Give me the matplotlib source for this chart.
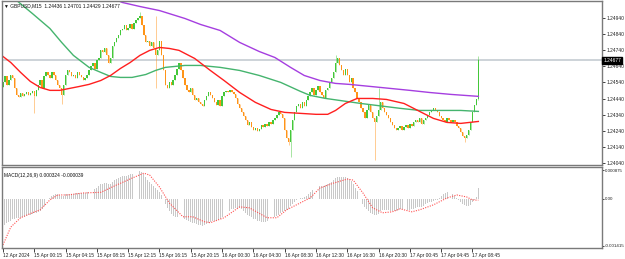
import numpy as np
import matplotlib
matplotlib.use("Agg")
from matplotlib import pyplot as plt
from matplotlib.transforms import blended_transform_factory

plt.rcParams["font.family"] = ["Liberation Sans", "DejaVu Sans"]

symbol = "GBPUSD,M15"
ohlc_last = [1.24436, 1.24701, 1.24429, 1.24677]
macd_last = [0.000324, -0.000039]

open0 = 1.24510
closes = [
    1.24540, 1.24577, 1.24522, 1.24552, 1.24589, 1.24565, 1.24503, 1.24460, 1.24448, 1.24472,
    1.24454, 1.24466, 1.24478, 1.24460, 1.24472, 1.24485, 1.24454, 1.24491, 1.24522, 1.24552,
    1.24503, 1.24577, 1.24602, 1.24589, 1.24565, 1.24602, 1.24583, 1.24552, 1.24522, 1.24503,
    1.24460, 1.24522, 1.24583, 1.24614, 1.24602, 1.24577, 1.24589, 1.24565, 1.24602, 1.24583,
    1.24571, 1.24552, 1.24565, 1.24583, 1.24614, 1.24639, 1.24663, 1.24626, 1.24676, 1.24688,
    1.24738, 1.24725, 1.24750, 1.24707, 1.24663, 1.24688, 1.24768, 1.24787, 1.24812, 1.24830,
    1.24861, 1.24873, 1.24892, 1.24861, 1.24879, 1.24898, 1.24873, 1.24910, 1.24923, 1.24935,
    1.24953, 1.24892, 1.24830, 1.24787, 1.24799, 1.24768, 1.24787, 1.24750, 1.24707, 1.24738,
    1.24799, 1.24707, 1.24614, 1.24522, 1.24503, 1.24540, 1.24522, 1.24552, 1.24583, 1.24626,
    1.24663, 1.24614, 1.24565, 1.24522, 1.24491, 1.24478, 1.24503, 1.24460, 1.24429, 1.24441,
    1.24417, 1.24404, 1.24392, 1.24429, 1.24454, 1.24478, 1.24460, 1.24441, 1.24417, 1.24398,
    1.24429, 1.24392, 1.24454, 1.24478, 1.24485, 1.24478, 1.24491, 1.24478, 1.24466, 1.24441,
    1.24404, 1.24380, 1.24355, 1.24330, 1.24306, 1.24275, 1.24293, 1.24262, 1.24244, 1.24256,
    1.24238, 1.24250, 1.24275, 1.24262, 1.24281, 1.24269, 1.24293, 1.24281, 1.24306, 1.24318,
    1.24336, 1.24355, 1.24343, 1.24318, 1.24244, 1.24195, 1.24170, 1.24244, 1.24306, 1.24355,
    1.24392, 1.24404, 1.24380, 1.24417, 1.24392, 1.24429, 1.24454, 1.24478, 1.24503, 1.24460,
    1.24491, 1.24515, 1.24478, 1.24460, 1.24441, 1.24491, 1.24503, 1.24540, 1.24565, 1.24602,
    1.24663, 1.24688, 1.24645, 1.24614, 1.24583, 1.24626, 1.24583, 1.24540, 1.24565, 1.24503,
    1.24478, 1.24441, 1.24417, 1.24380, 1.24355, 1.24318, 1.24367, 1.24398, 1.24355, 1.24318,
    1.24293, 1.24330, 1.24367, 1.24417, 1.24380, 1.24355, 1.24336, 1.24318, 1.24293, 1.24275,
    1.24256, 1.24244, 1.24256, 1.24269, 1.24244, 1.24262, 1.24275, 1.24256, 1.24281, 1.24269,
    1.24293, 1.24306, 1.24293, 1.24318, 1.24281, 1.24306, 1.24318, 1.24336, 1.24355, 1.24367,
    1.24380, 1.24367, 1.24355, 1.24330, 1.24318, 1.24306, 1.24293, 1.24318, 1.24306, 1.24293,
    1.24306, 1.24293, 1.24269, 1.24256, 1.24232, 1.24207, 1.24195, 1.24213, 1.24244, 1.24293,
    1.24355, 1.24398, 1.24436, 1.24677,
]
# long shadows (bar index: price)
wick_high = {70: 1.24972, 78: 1.24953, 170: 1.24707, 192: 1.24503, 243: 1.24701}
wick_low = {16: 1.24350, 30: 1.24404, 78: 1.24503, 146: 1.24151, 147: 1.24077,
            190: 1.24059, 236: 1.24170, 243: 1.24429}

# moving averages at some bars
red_bars = [-2, 4, 9, 14, 19, 24, 29, 34, 39, 44, 50, 55, 60, 65, 70, 75, 80, 85, 90, 98,
            106, 113, 121, 129, 137, 144, 152, 160, 166, 170, 175, 181, 189, 196, 205, 212,
            220, 227, 234, 243]
red_ma = [1.24719, 1.24663, 1.24602, 1.24546, 1.24509, 1.24491, 1.24491, 1.24503, 1.24515,
          1.24528, 1.24552, 1.24583, 1.24626, 1.24663, 1.24707, 1.24738, 1.24756, 1.24750,
          1.24738, 1.24688, 1.24614, 1.24552, 1.24478, 1.24417, 1.24373, 1.24355, 1.24349,
          1.24343, 1.24343, 1.24367, 1.24410, 1.24441, 1.24441, 1.24435, 1.24410, 1.24367,
          1.24318, 1.24293, 1.24287, 1.24299]
green_bars = [7, 15, 24, 30, 36, 44, 50, 55, 60, 66, 73, 78, 83, 93, 101, 111, 121, 131, 142,
              152, 157, 165, 172, 183, 193, 203, 213, 223, 234, 243]
green_ma = [1.25046, 1.24966, 1.24873, 1.24787, 1.24707, 1.24633, 1.24602, 1.24577, 1.24571,
            1.24571, 1.24589, 1.24614, 1.24633, 1.24645, 1.24645, 1.24633, 1.24614, 1.24583,
            1.24540, 1.24485, 1.24460, 1.24441, 1.24429, 1.24410, 1.24395, 1.24380, 1.24367,
            1.24367, 1.24367, 1.24361]
purple_bars = [55, 61, 70, 80, 93, 101, 111, 121, 131, 139, 147, 154, 162, 170, 177, 188, 198,
               208, 218, 229, 243]
purple_ma = [1.25065, 1.25034, 1.25009, 1.24984, 1.24935, 1.24898, 1.24861, 1.24787, 1.24731,
             1.24694, 1.24633, 1.24583, 1.24552, 1.24534, 1.24528, 1.24515, 1.24503, 1.24491,
             1.24478, 1.24466, 1.24454]

macd_main = np.array([
    -88, -80, -74, -70, -66, -62, -60, -58, -57, -57, -56, -55, -53, -50, -48, -46, -44, -42,
    -40, -36, -30, -22, -14, -6, 2, 8, 12, 14, 14, 12, 8, 10, 14, 16, 16, 15, 16, 17, 18, 18,
    17, 18, 19, 21, 24, 27, 30, 30, 34, 38, 44, 46, 48, 47, 44, 46, 52, 56, 60, 63, 66, 68, 70,
    70, 72, 74, 76, 78, 80, 82, 84, 80, 74, 66, 58, 50, 44, 40, 34, 28, 22, 12, 0, -14, -28,
    -38, -46, -52, -56, -56, -54, -54, -56, -60, -64, -68, -70, -72, -74, -76, -78, -80, -82,
    -80, -76, -72, -70, -68, -68, -66, -64, -62, -56, -50, -44, -40, -36, -32, -30, -28, -27,
    -28, -32, -36, -42, -48, -52, -56, -60, -62, -66, -68, -70, -70, -70, -68, -66, -64, -60,
    -56, -52, -48, -44, -40, -36, -34, -30, -22, -14, -8, -4, 0, 2, 4, 6, 10, 14, 20, 26, 30,
    34, 36, 38, 40, 40, 42, 44, 48, 52, 56, 62, 66, 66, 66, 66, 66, 64, 60, 54, 44, 34, 24, 10,
    -4, -14, -24, -30, -36, -42, -46, -50, -50, -46, -36, -34, -34, -34, -35, -36, -36, -36,
    -36, -34, -32, -32, -33, -34, -34, -33, -32, -30, -27, -25, -24, -23, -20, -16, -12, -10,
    -8, -6, -4, -2, 2, 8, 14, 18, 20, 18, 16, 14, 10, 4, -2, -8, -14, -18, -22, -22, -18, -10,
    -2, 6, 32.4]) * 1e-5
signal_bars = [0, 4, 9, 15, 19, 24, 28, 33, 41, 50, 58, 66, 72, 75, 80, 85, 92, 97, 103, 106,
               113, 121, 126, 135, 140, 145, 152, 157, 162, 169, 176, 179, 184, 189, 194, 199,
               203, 209, 213, 220, 227, 232, 237, 240, 243]
signal = np.array([-139, -85, -57, -42, -33, -3, 12, 12, 18, 20, 42, 63, 78, 72, 36, -12, -54,
                   -54, -69, -72, -57, -24, -27, -57, -57, -33, -12, 3, 33, 48, 60, 57, 18, -27,
                   -42, -39, -30, -39, -33, -18, 3, 12, 6, -3, -3.9]) * 1e-5

date_ticks = [0, 16, 32, 48, 64, 80, 96, 112, 128, 144, 160, 176, 192, 208, 224, 240]
date_labels = ["12 Apr 2024", "15 Apr 00:15", "15 Apr 04:15", "15 Apr 08:15", "15 Apr 12:15",
               "15 Apr 16:15", "15 Apr 20:15", "16 Apr 00:30", "16 Apr 04:30", "16 Apr 08:30",
               "16 Apr 12:30", "16 Apr 16:30", "16 Apr 20:30", "17 Apr 00:45", "17 Apr 04:45",
               "17 Apr 08:45"]
price_ticks = [1.24040, 1.24140, 1.24240, 1.24340, 1.24440, 1.24540, 1.24640, 1.24740,
               1.24840, 1.24940]
macd_ticks = [-0.001415, 0.0, 0.000875]
macd_tick_labels = ["-0.001415", "0.00", "0.000875"]

fs = 3.5
W, H = 625, 259
fig = plt.figure(figsize=(W / 100, H / 100), dpi=100)
ax = fig.add_axes([2 / W, (H - 165) / H, 600 / W, 164 / H])
ax2 = fig.add_axes([2 / W, (H - 248) / H, 600 / W, 81 / H])

bull = "#44c83a"
bear = "#ff9418"
n = len(closes)
x = np.arange(n)
opens = [open0] + closes[:-1]
for i in range(n):
    o, c = opens[i], closes[i]
    col = bull if c >= o else bear
    hi = wick_high.get(i, max(o, c))
    lo = wick_low.get(i, min(o, c))
    ax.vlines(i, lo, hi, color=col, lw=0.6, alpha=0.55)
    ax.bar(i, max(abs(c - o), 0.00002), bottom=min(o, c), width=0.7, color=col, lw=0)

ax.plot(purple_bars, purple_ma, color="#a53ee0", lw=1.0)
ax.plot(green_bars, green_ma, color="#45b46e", lw=1.0)
ax.plot(red_bars, red_ma, color="#ff1f1f", lw=1.0)
ax.axhline(ohlc_last[3], color="#c9d0d6", lw=1.3, zorder=0)

ax.set_xlim(-0.5, 306.2)
ax.set_ylim(1.24030, 1.25043)
ax.yaxis.tick_right()
ax.set_yticks(price_ticks)
ax.set_yticklabels([f"{t:.5f}" for t in price_ticks])
ax.set_xticks([])
ax.tick_params(axis="y", labelsize=fs, length=2, pad=1, colors="#222222", width=0.6)
ax.text(1.002, ohlc_last[3], f"{ohlc_last[3]:.5f}",
        transform=blended_transform_factory(ax.transAxes, ax.transData),
        fontsize=fs, color="white", va="center", ha="left",
        bbox=dict(boxstyle="square,pad=0.25", fc="black", ec="black"))
ax.text(0.003, 0.985, "\u25bc " + symbol + "  " + " ".join(f"{v:.5f}" for v in ohlc_last),
        transform=ax.transAxes, fontsize=fs, va="top", ha="left", color="#111111")

ax2.bar(x, macd_main, width=0.45, color="#c8c8c8", lw=0)
ax2.plot(signal_bars, signal, color="#ff5050", lw=0.8, ls=(0, (1, 1.2)))
ax2.set_xlim(-0.5, 306.2)
ax2.set_ylim(-0.001485, 0.000966)
ax2.yaxis.tick_right()
ax2.set_yticks(macd_ticks)
ax2.set_yticklabels(macd_tick_labels)
ax2.tick_params(axis="y", labelsize=3.2, length=1.5, pad=0.5, colors="#222222", width=0.6)
ax2.set_xticks(date_ticks)
ax2.set_xticklabels(date_labels, ha="left")
ax2.tick_params(axis="x", labelsize=fs, length=3, pad=0.5, colors="#222222", width=0.6)
ax2.text(0.003, 0.93, "MACD(12,26,9) " + f"{macd_last[0]:.6f} {macd_last[1]:.6f}",
         transform=ax2.transAxes, fontsize=fs, va="top", ha="left", color="#111111")

for a in (ax, ax2):
    for s in a.spines.values():
        s.set_color("#7a7a7a")
        s.set_linewidth(1.0)

fig.savefig("out.png", dpi=100)
